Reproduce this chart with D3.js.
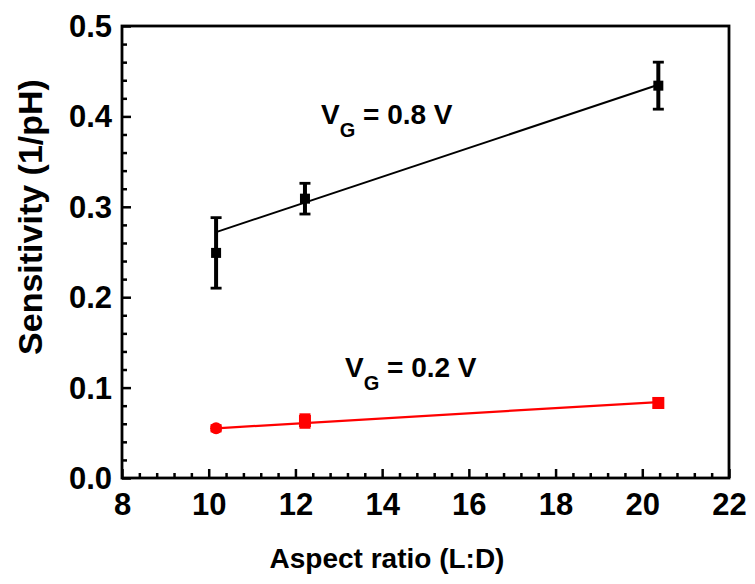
<!DOCTYPE html>
<html><head><meta charset="utf-8">
<script src="https://cdn.jsdelivr.net/npm/d3@7"></script>
<style>body{margin:0;background:#fff;} text{font-family:"Liberation Sans",Arial,sans-serif;font-weight:bold;}</style>
</head><body><svg id="c" width="755" height="584"></svg>
<script>
const aspect = [10.17, 12.22, 20.37];
const sens08 = [0.249, 0.309, 0.434];
const err08 = [0.039, 0.017, 0.026];
const sens02 = [0.055, 0.063, 0.083];
const err02 = [0.003, 0.007, 0.005];
const fitX = [10.17, 20.37];
const fit08 = [0.272, 0.435];
const fit02 = [0.055, 0.084];
const xTicks = [8, 10, 12, 14, 16, 18, 20, 22];
const yTicks = [0.0, 0.1, 0.2, 0.3, 0.4, 0.5];

const svg = d3.select("#c");
const L = 122, R = 729, T = 26, B = 478;
const x = d3.scaleLinear().domain([8, 22]).range([L, R]);
const y = d3.scaleLinear().domain([0, 0.5]).range([B, T]);

const xMinor = d3.range(8, 22.001, 0.4).filter(v => Math.abs(v/2 - Math.round(v/2)) > 1e-6);
const yMinor = d3.range(0, 0.5001, 0.02).filter(v => Math.abs(v*10 - Math.round(v*10)) > 1e-6);

const gx = svg.append("g").attr("transform", `translate(0,${B})`)
  .call(d3.axisBottom(x).tickValues(xTicks).tickSize(-9).tickPadding(15).tickFormat(d3.format("d")));
gx.select(".domain").remove();
gx.selectAll(".tick line").attr("stroke", "#000").attr("stroke-width", 2.5);
gx.selectAll(".tick text").attr("font-size", 31).attr("dy", "0.71em").attr("fill", "#000");
svg.append("g").attr("transform", `translate(0,${B})`)
  .call(d3.axisBottom(x).tickValues(xMinor).tickSize(-5).tickFormat(""))
  .call(g => g.select(".domain").remove())
  .selectAll(".tick line").attr("stroke", "#000").attr("stroke-width", 2.5);

const gy = svg.append("g").attr("transform", `translate(${L},0)`)
  .call(d3.axisLeft(y).tickValues(yTicks).tickSize(-9).tickPadding(10).tickFormat(d3.format(".1f")));
gy.select(".domain").remove();
gy.selectAll(".tick line").attr("stroke", "#000").attr("stroke-width", 2.5);
gy.selectAll(".tick text").attr("font-size", 31).attr("dy", "0.34em").attr("fill", "#000");
svg.append("g").attr("transform", `translate(${L},0)`)
  .call(d3.axisLeft(y).tickValues(yMinor).tickSize(-5).tickFormat(""))
  .call(g => g.select(".domain").remove())
  .selectAll(".tick line").attr("stroke", "#000").attr("stroke-width", 2.5);

svg.append("rect").attr("x", L).attr("y", T).attr("width", R - L).attr("height", B - T)
  .attr("fill", "none").attr("stroke", "#000").attr("stroke-width", 2.8);

const line = d3.line().x(d => x(d[0])).y(d => y(d[1]));
svg.append("path").attr("d", line(fitX.map((v, i) => [v, fit08[i]])))
  .attr("stroke", "#000").attr("stroke-width", 2).attr("fill", "none");
svg.append("path").attr("d", line(fitX.map((v, i) => [v, fit02[i]])))
  .attr("stroke", "#f00").attr("stroke-width", 2.2).attr("fill", "none");

function series(vals, errs, color, shapes, size) {
  const g = svg.append("g");
  aspect.forEach((a, i) => {
    const cx = x(a), v = vals[i], e = errs[i];
    g.append("line").attr("x1", cx).attr("x2", cx).attr("y1", y(v - e)).attr("y2", y(v + e))
      .attr("stroke", color).attr("stroke-width", 4);
    [v - e, v + e].forEach(t => g.append("line").attr("x1", cx - 5.5).attr("x2", cx + 5.5)
      .attr("y1", y(t)).attr("y2", y(t)).attr("stroke", color).attr("stroke-width", 2.8));
    if (shapes[i] === "c") {
      g.append("circle").attr("cx", cx).attr("cy", y(v)).attr("r", size/2).attr("fill", color);
    } else {
      g.append("rect").attr("x", cx - size/2).attr("y", y(v) - size/2).attr("width", size).attr("height", size).attr("fill", color);
    }
  });
}
series(sens08, err08, "#000", ["s", "s", "s"], 10);
series(sens02, err02, "#f00", ["c", "s", "s"], 12);

function vlabel(px, py, val) {
  const t = svg.append("text").attr("x", px).attr("y", py).attr("font-size", 28).attr("fill", "#000");
  t.append("tspan").text("V");
  t.append("tspan").attr("font-size", 20).attr("dy", 13).text("G");
  t.append("tspan").attr("dy", -13).text(" = " + val + " V");
}
vlabel(321, 124, "0.8");
vlabel(345, 377, "0.2");

svg.append("text").attr("x", 387).attr("y", 568).attr("text-anchor", "middle")
  .attr("font-size", 28).attr("fill", "#000").text("Aspect ratio (L:D)");
svg.append("text").attr("transform", "translate(42,217) rotate(-90)").attr("text-anchor", "middle")
  .attr("font-size", 34).attr("fill", "#000").text("Sensitivity (1/pH)");
</script></body></html>
